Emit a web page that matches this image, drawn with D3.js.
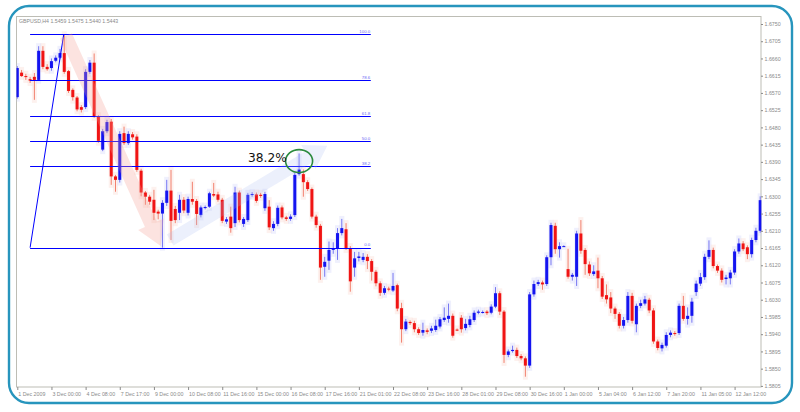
<!DOCTYPE html>
<html>
<head>
<meta charset="utf-8">
<script src="https://cdn.jsdelivr.net/npm/d3@7/dist/d3.min.js"></script>
<style>
  html, body { margin: 0; padding: 0; background: #ffffff; }
  svg { display: block; }
</style>
</head>
<body>
<script>
// ---------------- DATA ----------------
const title = "GBPUSD,H4  1.5459 1.5475 1.5440 1.5443";

const open = [
1.6559,1.6623,1.6614,1.6606,1.6612,1.6604,1.6680,1.6638,1.6635,1.6654,
1.6662,1.6674,1.6627,1.6578,1.6558,1.6533,1.6533,1.6625,1.6649,1.6508,
1.6422,1.6470,1.6495,1.6352,1.6343,1.6465,1.6439,1.6462,1.6456,1.6367,
1.6310,1.6299,1.6291,1.6260,1.6255,1.6283,1.6315,1.6267,1.6257,1.6291,
1.6257,1.6293,1.6288,1.6251,1.6270,1.6273,1.6306,1.6305,1.6291,1.6234,
1.6247,1.6230,1.6310,1.6228,1.6238,1.6304,1.6305,1.6304,1.6269,1.6273,
1.6217,1.6228,1.6271,1.6245,1.6241,1.6251,1.6358,1.6358,1.6337,1.6319,
1.6247,1.6223,1.6116,1.6132,1.6160,1.6165,1.6204,1.6214,1.6165,1.6114,
1.6139,1.6134,1.6142,1.6131,1.6103,1.6073,1.6048,1.6059,1.6054,1.6068,
1.6008,1.5953,1.5972,1.5969,1.5953,1.5944,1.5950,1.5949,1.5951,1.5960,
1.5977,1.5980,1.5988,1.5952,1.5983,1.5956,1.5964,1.5977,1.5996,1.5998,
1.5999,1.5996,1.6012,1.6047,1.5999,1.5886,1.5896,1.5899,1.5883,1.5877,
1.5858,1.6044,1.6071,1.6075,1.6071,1.6141,1.6223,1.6162,1.6170,1.6110,
1.6090,1.6090,1.6203,1.6160,1.6122,1.6097,1.6106,1.6086,1.6042,1.6036,
1.6007,1.5993,1.5962,1.5977,1.6040,1.5966,1.6014,1.6020,1.6030,1.6002,
1.5921,1.5903,1.5910,1.5938,1.5943,1.5943,1.6014,1.5980,1.5988,1.6050,
1.6072,1.6089,1.6142,1.6160,1.6118,1.6106,1.6084,1.6086,1.6101,1.6156,
1.6177,1.6167,1.6149,1.6186,1.6210];

const high = [
1.6640,1.6630,1.6620,1.6612,1.6622,1.6692,1.6692,1.6645,1.6660,1.6668,
1.6685,1.6723,1.6630,1.6582,1.6562,1.6538,1.6632,1.6656,1.6673,1.6512,
1.6476,1.6500,1.6502,1.6356,1.6470,1.6482,1.6470,1.6468,1.6462,1.6372,
1.6314,1.6304,1.6317,1.6265,1.6290,1.6343,1.6369,1.6275,1.6304,1.6298,
1.6299,1.6338,1.6293,1.6276,1.6276,1.6312,1.6335,1.6312,1.6296,1.6246,
1.6273,1.6325,1.6315,1.6246,1.6309,1.6311,1.6310,1.6309,1.6312,1.6290,
1.6235,1.6276,1.6276,1.6249,1.6253,1.6362,1.6412,1.6370,1.6342,1.6323,
1.6252,1.6228,1.6142,1.6182,1.6180,1.6217,1.6241,1.6230,1.6170,1.6155,
1.6155,1.6152,1.6149,1.6136,1.6108,1.6078,1.6066,1.6064,1.6100,1.6072,
1.6022,1.5980,1.5976,1.5975,1.5958,1.5970,1.5955,1.5962,1.5978,1.5985,
1.6010,1.6020,1.5994,1.5955,1.5990,1.5980,1.5988,1.6002,1.6004,1.6002,
1.6003,1.6018,1.6063,1.6052,1.6003,1.5900,1.5910,1.5905,1.5888,1.5882,
1.6050,1.6080,1.6082,1.6080,1.6146,1.6231,1.6231,1.6180,1.6172,1.6163,
1.6100,1.6210,1.6238,1.6165,1.6130,1.6120,1.6140,1.6092,1.6070,1.6050,
1.6012,1.5998,1.5985,1.6050,1.6048,1.6020,1.6030,1.6040,1.6035,1.6008,
1.5926,1.5918,1.5945,1.5950,1.5948,1.6020,1.6040,1.6010,1.6035,1.6080,
1.6100,1.6150,1.6185,1.6166,1.6122,1.6112,1.6095,1.6108,1.6162,1.6190,
1.6183,1.6172,1.6192,1.6218,1.6300];

const low = [
1.6555,1.6612,1.6604,1.6596,1.6552,1.6602,1.6632,1.6628,1.6628,1.6650,
1.6658,1.6620,1.6570,1.6550,1.6522,1.6519,1.6528,1.6620,1.6505,1.6440,
1.6418,1.6465,1.6330,1.6312,1.6336,1.6434,1.6434,1.6448,1.6364,1.6300,
1.6278,1.6278,1.6238,1.6240,1.6166,1.6275,1.6186,1.6230,1.6238,1.6256,
1.6250,1.6278,1.6225,1.6245,1.6266,1.6270,1.6298,1.6286,1.6230,1.6228,
1.6205,1.6220,1.6232,1.6220,1.6233,1.6299,1.6283,1.6296,1.6262,1.6212,
1.6210,1.6222,1.6240,1.6236,1.6236,1.6246,1.6354,1.6299,1.6314,1.6242,
1.6218,1.6082,1.6090,1.6108,1.6150,1.6134,1.6198,1.6160,1.6051,1.6090,
1.6130,1.6128,1.6110,1.6080,1.6065,1.6040,1.6043,1.6052,1.6050,1.6000,
1.5918,1.5948,1.5964,1.5945,1.5938,1.5936,1.5940,1.5943,1.5946,1.5955,
1.5972,1.5970,1.5931,1.5948,1.5944,1.5950,1.5958,1.5972,1.5992,1.5994,
1.5990,1.5992,1.6008,1.5990,1.5865,1.5880,1.5892,1.5878,1.5872,1.5829,
1.5852,1.6038,1.6066,1.6056,1.6066,1.6120,1.6150,1.6140,1.6168,1.6085,
1.6080,1.6066,1.6150,1.6095,1.6092,1.6092,1.6060,1.6032,1.6020,1.5995,
1.5980,1.5955,1.5955,1.5970,1.5968,1.5945,1.6008,1.6015,1.5995,1.5915,
1.5898,1.5895,1.5905,1.5932,1.5936,1.5938,1.5975,1.5965,1.5970,1.6040,
1.6066,1.6082,1.6136,1.6112,1.6100,1.6075,1.6070,1.6070,1.6095,1.6150,
1.6157,1.6136,1.6140,1.6180,1.6205];

const close = [
1.6635,1.6614,1.6612,1.6602,1.6604,1.6680,1.6638,1.6632,1.6653,1.6662,
1.6674,1.6625,1.6575,1.6559,1.6527,1.6526,1.6625,1.6649,1.6508,1.6445,
1.6470,1.6494,1.6352,1.6343,1.6463,1.6439,1.6463,1.6454,1.6369,1.6310,
1.6299,1.6286,1.6257,1.6255,1.6283,1.6315,1.6236,1.6238,1.6291,1.6263,
1.6293,1.6286,1.6254,1.6271,1.6272,1.6308,1.6302,1.6291,1.6236,1.6240,
1.6217,1.6310,1.6238,1.6241,1.6304,1.6306,1.6288,1.6301,1.6306,1.6219,
1.6228,1.6270,1.6245,1.6241,1.6247,1.6356,1.6370,1.6337,1.6319,1.6247,
1.6225,1.6114,1.6129,1.6160,1.6165,1.6204,1.6217,1.6165,1.6078,1.6138,
1.6143,1.6142,1.6131,1.6103,1.6073,1.6048,1.6060,1.6057,1.6066,1.6007,
1.5953,1.5973,1.5969,1.5953,1.5943,1.5951,1.5946,1.5955,1.5962,1.5979,
1.5983,1.5988,1.5936,1.5951,1.5953,1.5967,1.5979,1.5996,1.5999,1.5998,
1.5995,1.6012,1.6047,1.5999,1.5886,1.5895,1.5899,1.5883,1.5877,1.5858,
1.6044,1.6071,1.6076,1.6070,1.6141,1.6225,1.6162,1.6170,1.6170,1.6090,
1.6095,1.6203,1.6158,1.6123,1.6099,1.6104,1.6086,1.6038,1.6031,1.6007,
1.5993,1.5962,1.5977,1.6040,1.5975,1.6014,1.6021,1.6031,1.6002,1.5921,
1.5904,1.5912,1.5938,1.5944,1.5941,1.6014,1.5980,1.5988,1.6025,1.6072,
1.6089,1.6142,1.6160,1.6118,1.6106,1.6082,1.6088,1.6101,1.6156,1.6177,
1.6162,1.6149,1.6186,1.6210,1.6290];

const xTickBars = [0,8,16,24,32,40,48,56,64,72,80,88,96,104,112,120,128,136,144,152,160,168];
const xTickLabels = ["1 Dec 2009","3 Dec 00:00","4 Dec 08:00","7 Dec 17:00","9 Dec 00:00","10 Dec 08:00",
  "11 Dec 16:00","15 Dec 00:00","16 Dec 08:00","17 Dec 16:00","21 Dec 01:00","22 Dec 08:00",
  "23 Dec 16:00","28 Dec 01:00","29 Dec 08:00","30 Dec 16:00","1 Jan 00:00","5 Jan 04:00",
  "6 Jan 12:00","7 Jan 20:00","11 Jan 05:00","12 Jan 12:00"];
const yTicks = [1.6750,1.6705,1.6660,1.6615,1.6570,1.6525,1.6480,1.6435,1.6390,1.6345,1.6300,
  1.6255,1.6210,1.6165,1.6120,1.6075,1.6030,1.5985,1.5940,1.5895,1.5850,1.5805];

const fibLevels = [0, 38.2, 50, 61.8, 78.6, 100];
const fibLabels = ["0.0", "38.2", "50.0", "61.8", "78.6", "100.0"];
const fibLowPrice = 1.6166, fibHighPrice = 1.6723;
const fibLowBar = 3, fibHighBar = 11, fibEndBar = 82.8;

const redArrow = {fromBar: 11.4, fromPrice: 1.6719, toBar: 33.6, toPrice: 1.6170};
const blueArrow = {fromBar: 35.8, fromPrice: 1.6186, toBar: 72.6, toPrice: 1.6432};
const circleMark = {bar: 66, price: 1.6392, label: "38.2%"};

// ---------------- LAYOUT ----------------
const W = 800, H = 412;
const plot = {left: 16.5, top: 16.5, right: 761, bottom: 387};

const bars = open.map((o, i) => ({i, o, h: high[i], l: low[i], c: close[i]}));

const x = d3.scaleLinear().domain([0, 174]).range([17.3, 760.2]);
const y = d3.scaleLinear().domain([1.5805, 1.6750]).range([385.9, 24]);

const svg = d3.select("body").append("svg").attr("width", W).attr("height", H);

// outer rounded frame
svg.append("rect").attr("x", 9).attr("y", 6).attr("width", 783).attr("height", 397)
  .attr("rx", 20).attr("fill", "#ffffff").attr("stroke", "#2795bd").attr("stroke-width", 2.4);

// plot frame
svg.append("rect").attr("x", plot.left).attr("y", plot.top)
  .attr("width", plot.right - plot.left).attr("height", plot.bottom - plot.top)
  .attr("fill", "#ffffff").attr("stroke", "#bdbdb5").attr("stroke-width", 1);

svg.append("defs").append("clipPath").attr("id", "clip")
  .append("rect").attr("x", plot.left).attr("y", plot.top)
  .attr("width", plot.right - plot.left + 0.5).attr("height", plot.bottom - plot.top);

// title
svg.append("text").attr("x", 19).attr("y", 22.5).text(title)
  .attr("font-family", "Liberation Sans, Arial, sans-serif").attr("font-size", 5.2).attr("fill", "#8a8a8a");

const g = svg.append("g").attr("clip-path", "url(#clip)");

const upCol = "#1414f0", dnCol = "#f01414";
const isUp = d => d.c >= d.o;

// faint halos behind candles
g.append("g").selectAll("rect").data(bars).join("rect")
  .attr("x", d => x(d.i) - 2.5).attr("width", 5)
  .attr("y", d => y(d.h) - 3).attr("height", d => y(d.l) - y(d.h) + 6)
  .attr("fill", d => isUp(d) ? "#c9ccf7" : "#f9cfc8").attr("opacity", 0.3);

// wicks
g.append("g").selectAll("line").data(bars).join("line")
  .attr("x1", d => x(d.i)).attr("x2", d => x(d.i))
  .attr("y1", d => y(d.h)).attr("y2", d => y(d.l))
  .attr("stroke", d => isUp(d) ? "#7676f2" : "#f2806e").attr("stroke-width", 1);

// bodies
g.append("g").selectAll("rect").data(bars).join("rect")
  .attr("x", d => x(d.i) - 1.5).attr("width", 3)
  .attr("y", d => y(Math.max(d.o, d.c)))
  .attr("height", d => Math.max(1, Math.abs(y(d.o) - y(d.c))))
  .attr("fill", d => isUp(d) ? upCol : dnCol);

// fibonacci
const fibPrice = lv => fibLowPrice + (fibHighPrice - fibLowPrice) * lv / 100;
const fg = g.append("g");
fg.selectAll("line.fib").data(fibLevels).join("line").attr("class", "fib")
  .attr("x1", x(fibLowBar)).attr("x2", x(fibEndBar))
  .attr("y1", d => Math.round(y(fibPrice(d))) + 0.5).attr("y2", d => Math.round(y(fibPrice(d))) + 0.5)
  .attr("stroke", "#0000ff").attr("stroke-width", 1);
fg.selectAll("text").data(fibLevels).join("text")
  .attr("x", x(fibEndBar) - 0.5).attr("y", d => y(fibPrice(d)) - 1.3)
  .attr("text-anchor", "end").text((d, i) => fibLabels[i])
  .attr("font-family", "Liberation Sans, Arial, sans-serif").attr("font-size", 4.4).attr("fill", "#6a6af5");
fg.append("line")
  .attr("x1", x(fibLowBar)).attr("y1", y(fibLowPrice))
  .attr("x2", x(fibHighBar) - 0.5).attr("y2", y(fibHighPrice))
  .attr("stroke", "#0000ff").attr("stroke-width", 1);

// arrows
function arrowPath(a, shaft, headW, headL) {
  const x1 = x(a.fromBar), y1 = y(a.fromPrice), x2 = x(a.toBar), y2 = y(a.toPrice);
  const dx = x2 - x1, dy = y2 - y1, len = Math.hypot(dx, dy);
  const ux = dx / len, uy = dy / len, nx = -uy, ny = ux;
  const bx = x2 - ux * headL, by = y2 - uy * headL;
  const pts = [
    [x1 + nx * shaft / 2, y1 + ny * shaft / 2],
    [bx + nx * shaft / 2, by + ny * shaft / 2],
    [bx + nx * headW / 2, by + ny * headW / 2],
    [x2, y2],
    [bx - nx * headW / 2, by - ny * headW / 2],
    [bx - nx * shaft / 2, by - ny * shaft / 2],
    [x1 - nx * shaft / 2, y1 - ny * shaft / 2]
  ];
  return "M" + pts.map(p => p.join(",")).join("L") + "Z";
}
svg.append("path").attr("d", arrowPath(redArrow, 13, 28, 24))
  .attr("fill", "#f39a90").attr("opacity", 0.28);
svg.append("path").attr("d", arrowPath(blueArrow, 13, 28, 22))
  .attr("fill", "#a8bcf0").attr("opacity", 0.22);

// circle + label
svg.append("ellipse").attr("cx", x(circleMark.bar)).attr("cy", y(circleMark.price))
  .attr("rx", 13.5).attr("ry", 11.5).attr("fill", "none")
  .attr("stroke", "#2b8a3e").attr("stroke-width", 1.6);
svg.append("text").attr("x", x(circleMark.bar) - 51).attr("y", y(circleMark.price) + 0.5)
  .text(circleMark.label)
  .attr("font-family", "DejaVu Sans, sans-serif").attr("font-size", 12.2).attr("fill", "#111");

// y axis
const yAxis = d3.axisRight(y).tickValues(yTicks).tickSize(2).tickPadding(1.5)
  .tickFormat(d3.format(".4f"));
const ya = svg.append("g").attr("transform", `translate(${plot.right},0)`).call(yAxis);
ya.select(".domain").remove();
ya.selectAll("line").attr("stroke", "#8a8a8a");
ya.selectAll("text").attr("font-family", "Liberation Sans, Arial, sans-serif")
  .attr("font-size", 5.3).attr("fill", "#8a8a8a");

// x axis
const xAxis = d3.axisBottom(x).tickValues(xTickBars).tickSize(3).tickPadding(2)
  .tickFormat((d, i) => xTickLabels[i]);
const xa = svg.append("g").attr("transform", `translate(0,${plot.bottom})`).call(xAxis);
xa.select(".domain").remove();
xa.selectAll("line").attr("stroke", "#8a8a8a");
xa.selectAll("text").attr("text-anchor", "start").attr("dx", 0.5)
  .attr("font-family", "Liberation Sans, Arial, sans-serif")
  .attr("font-size", 5.3).attr("fill", "#8a8a8a");
</script>
</body>
</html>
